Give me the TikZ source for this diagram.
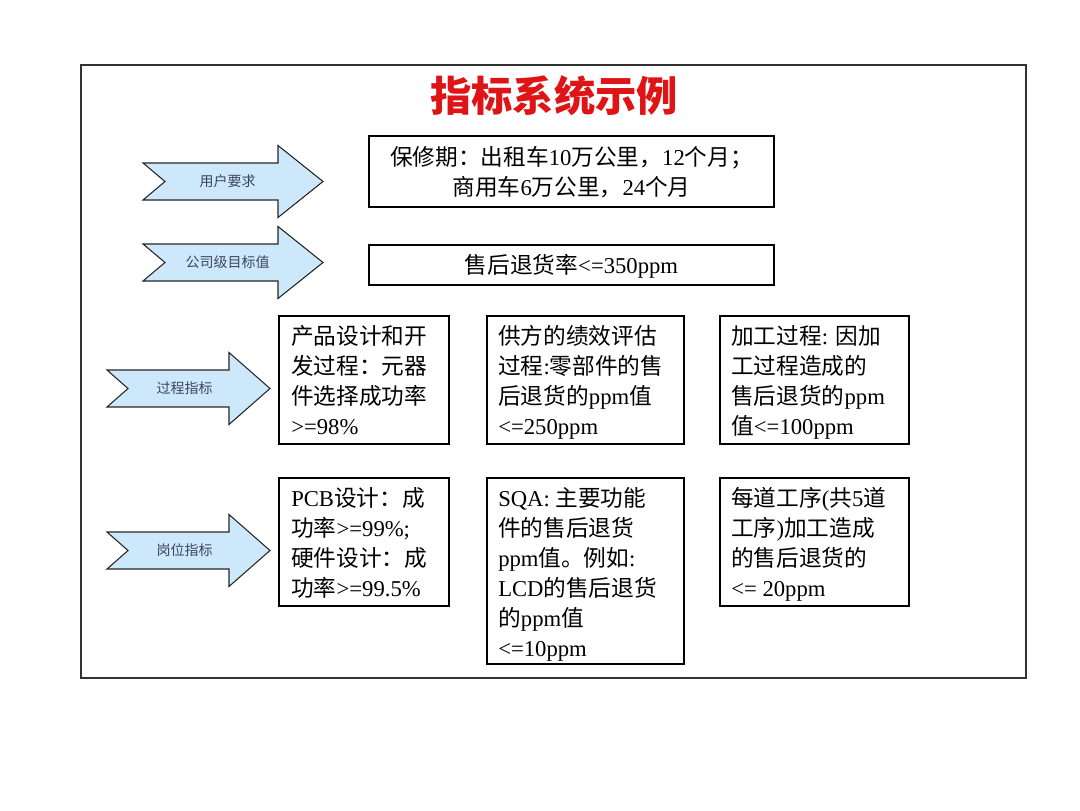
\documentclass[tikz,border=0pt]{standalone}
\usepackage{fontspec}
\setmainfont{Liberation Serif}
\newfontfamily\cjk{Noto Sans CJK SC}
\newcommand\ZH[1]{{\cjk #1}}
\definecolor{arrowfill}{RGB}{205,232,250}
\definecolor{titlered}{RGB}{222,20,22}
\definecolor{labelcol}{RGB}{60,70,95}
\tikzset{
  box/.style={draw=black, line width=0.8pt, inner sep=0pt},
  boxtext/.style={anchor=north west, align=left, inner sep=0pt, font=\fontsize{17}{22.5}\selectfont},
  fatarrow/.style={draw=black!85, fill=arrowfill, line width=0.8pt, line join=miter},
  arrowlabel/.style={text=labelcol, font=\fontsize{10.5}{12}\selectfont\cjk},
}
\begin{document}
\begin{tikzpicture}[x=0.75pt,y=-0.75pt]
\useasboundingbox (0,0) rectangle (1080,810);
\fill[white] (0,0) rectangle (1080,810);
% frame
\node[draw=black!80, line width=1pt, minimum width=945*0.75pt, minimum height=613*0.75pt, inner sep=0pt] (frame) at (553.5,371.5) {};
% title
\node[text=titlered, font=\fontsize{31}{34}\selectfont\cjk\bfseries] (title) at (554,96) {指标系统示例};

% arrows
\foreach \n/\xl/\xn/\xb/\xt/\yc/\lab in {a1/143/165/278/323/181.5/用户要求, a2/143/165/278/323/262.5/公司级目标值, a3/107/128/229/270/388.5/过程指标, a4/107/128/229/270/550.5/岗位指标}{
  \draw[fatarrow] (\xl,\yc-18.5) -- (\xb,\yc-18.5) -- (\xb,\yc-36) -- (\xt,\yc) -- (\xb,\yc+36) -- (\xb,\yc+18.5) -- (\xl,\yc+18.5) -- (\xn,\yc) -- cycle;
  \node[arrowlabel] (\n) at ({(\xn+\xb)/2+6},\yc) {\lab};
}

% top boxes
\node[box, minimum width=405*0.75pt, minimum height=71*0.75pt] (b1) at (571.5,171.5) {};
\node[align=center, inner sep=0pt, font=\fontsize{17}{22}\selectfont] (t1) at (571.5,172) {\ZH{保修期：出租车}10\ZH{万公里，}12\ZH{个月；}\\\ZH{商用车}6\ZH{万公里，}24\ZH{个月}};
\node[box, minimum width=405*0.75pt, minimum height=40*0.75pt] (b2) at (571.5,265) {};
\node[inner sep=0pt, font=\fontsize{17}{22}\selectfont] (t2) at (571.5,266) {\ZH{售后退货率}<=350ppm};

% row 3
\node[box, line width=1.9pt, minimum width=170*0.75pt, minimum height=128*0.75pt] (bA) at (364,380) {};
\node[boxtext] (tA) at (291,325) {\ZH{产品设计和开}\\\ZH{发过程：元器}\\\ZH{件选择成功率}\\>=98\%};
\node[box, minimum width=197*0.75pt, minimum height=128*0.75pt] (bB) at (585.5,380) {};
\node[boxtext] (tB) at (498,325) {\ZH{供方的绩效评估}\\\ZH{过程}:\ZH{零部件的售}\\\ZH{后退货的}ppm\ZH{值}\\<=250ppm};
\node[box, minimum width=189*0.75pt, minimum height=128*0.75pt] (bC) at (814.5,380) {};
\node[boxtext] (tC) at (731,325) {\ZH{加工过程}: \ZH{因加}\\\ZH{工过程造成的}\\\ZH{售后退货的}ppm\\\ZH{值}<=100ppm};

% row 4
\node[box, minimum width=170*0.75pt, minimum height=128*0.75pt] (bD) at (364,542) {};
\node[boxtext] (tD) at (291,487) {PCB\ZH{设计：成}\\\ZH{功率}>=99\%;\\\ZH{硬件设计：成}\\\ZH{功率}>=99.5\%};
\node[box, minimum width=197*0.75pt, minimum height=186*0.75pt] (bE) at (585.5,571) {};
\node[boxtext] (tE) at (498,487) {SQA: \ZH{主要功能}\\\ZH{件的售后退货}\\ppm\ZH{值。例如}:\\LCD\ZH{的售后退货}\\\ZH{的}ppm\ZH{值}\\<=10ppm};
\node[box, minimum width=189*0.75pt, minimum height=128*0.75pt] (bF) at (814.5,542) {};
\node[boxtext] (tF) at (731,487) {\ZH{每道工序}(\ZH{共}5\ZH{道}\\\ZH{工序})\ZH{加工造成}\\\ZH{的售后退货的}\\<= 20ppm};
\end{tikzpicture}
\end{document}
